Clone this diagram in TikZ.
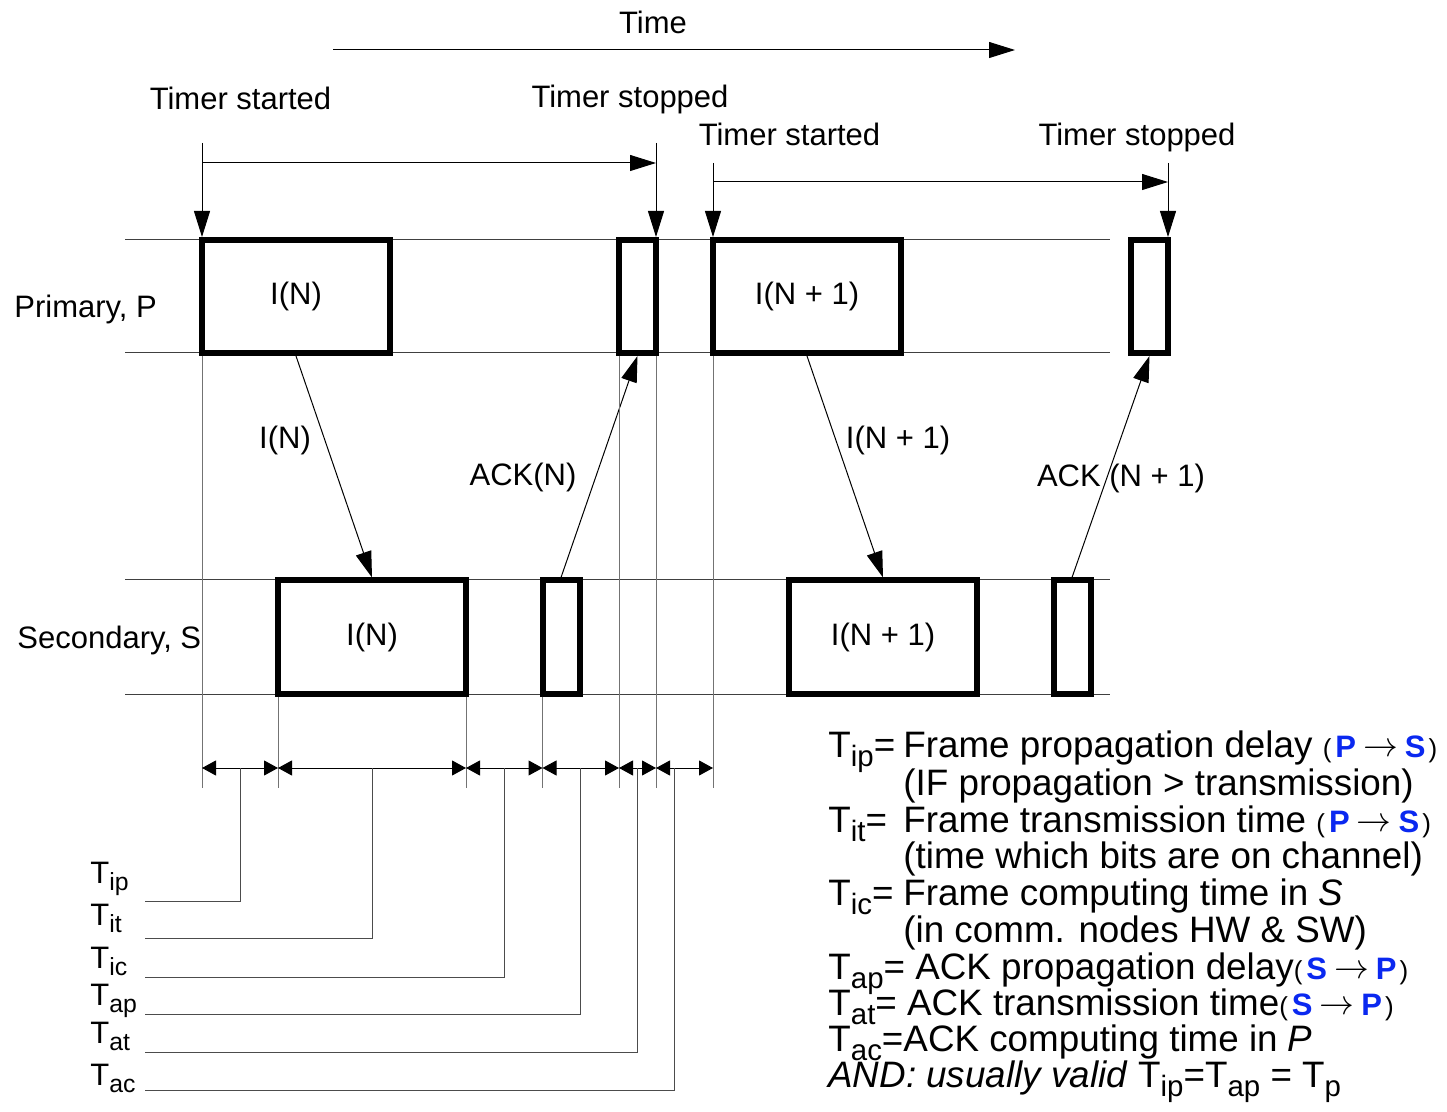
\documentclass[tikz,border=0pt]{standalone}
\usepackage{fontspec}
\usepackage{graphicx}
\setmainfont{Liberation Sans}
\usetikzlibrary{arrows.meta}
\definecolor{dirblue}{RGB}{10,40,240}
\newcommand{\lowsub}[1]{\raisebox{-0.25em}{\scalebox{0.8}{#1}}}
\newcommand{\pdir}[2]{{\fontsize{13}{13}\selectfont(\hspace{2pt}{\fontsize{15.5}{15}\selectfont\textcolor{dirblue}{\textbf{#1}}}\hspace{3.5pt}\smash{\raisebox{0.5pt}{\scalebox{1.45}{$\rightarrow$}}}\hspace{3.5pt}{\fontsize{15.5}{15}\selectfont\textcolor{dirblue}{\textbf{#2}}}\hspace{1.5pt})}}
\tikzset{
  chan/.style={black!75, line width=0.5pt},
  guide/.style={black!55, line width=0.5pt},
  lead/.style={black!70, line width=0.5pt},
  pdu/.style={draw, line width=3pt, minimum height=56.5pt, inner sep=0pt, font=\fontsize{15.5}{18}\selectfont},
  bigpdu/.style={pdu, minimum width=94pt},
  ackpdu/.style={pdu, minimum width=18.5pt},
  tarrow/.style={-{Triangle[length=13pt,width=8pt]}, line width=0.5pt},
  msg/.style={-{Triangle[length=13pt,width=8pt]}, line width=0.5pt},
  dim/.style={{Triangle[length=7pt,width=7.5pt]}-{Triangle[length=7pt,width=7.5pt]}, line width=0.5pt},
  lbl/.style={font=\fontsize{15.5}{18}\selectfont, inner sep=0pt},
  legend/.style={anchor=base west, inner sep=0pt, font=\fontsize{18.4}{18.4}\selectfont},
}
\begin{document}
\begin{tikzpicture}[x=0.5pt,y=-0.5pt]
\useasboundingbox (0,0) rectangle (1447,1112);

% time axis
\node[lbl] (time) at (653,22) {Time};
\coordinate (ta) at (333,50);
\coordinate (tb) at (1015,50);
\draw[tarrow] (ta) -- (tb);

% channels
\foreach \y in {240,353,580,694}
  \draw[chan] (125,\y) -- (1110,\y);
\node[lbl, anchor=base west] (prim) at (14,318) {Primary, P};
\node[lbl, anchor=base west] (sec) at (17,648) {Secondary, S};

% frames on P and S
\node[bigpdu] (pin) at (296,296.5) {I(N)};
\node[ackpdu] (pack) at (637.5,296.5) {};
\node[bigpdu] (pin1) at (807,296.5) {I(N + 1)};
\node[ackpdu] (pack1) at (1149.5,296.5) {};
\node[bigpdu] (sin) at (372,637) {I(N)};
\node[ackpdu] (sack) at (561,637) {};
\node[bigpdu] (sin1) at (883,637) {I(N + 1)};
\node[ackpdu] (sack1) at (1072,637) {};

% timers
\node[lbl, anchor=base] (tst1) at (240.5,110) {Timer started};
\node[lbl, anchor=base] (tsp1) at (630,108) {Timer stopped};
\node[lbl, anchor=base] (tst2) at (789.5,146) {Timer started};
\node[lbl, anchor=base] (tsp2) at (1137,146) {Timer stopped};
\coordinate (s1) at (202,143);
\coordinate (e1) at (656,143);
\coordinate (s2) at (713,163);
\coordinate (e2) at (1168,163);
\draw[tarrow] (s1) -- (s1 |- pin.north);
\draw[tarrow] (e1) -- (e1 |- pack.north);
\draw[tarrow] (s2) -- (s2 |- pin1.north);
\draw[tarrow] (e2) -- (e2 |- pack1.north);
\coordinate (h1a) at (202,163);
\coordinate (h1b) at (656,163);
\coordinate (h2a) at (713,182);
\coordinate (h2b) at (1168,182);
\draw[tarrow] (h1a) -- (h1b);
\draw[tarrow] (h2a) -- (h2b);

% messages
\draw[msg] (pin.south) -- (sin.north);
\draw[msg] (sack.north) -- (pack.south);
\draw[msg] (pin1.south) -- (sin1.north);
\draw[msg] (sack1.north) -- (pack1.south);
\node[lbl] (min) at (285,440) {I(N)};
\node[lbl] (mack) at (523,477) {ACK(N)};
\node[lbl] (min1) at (898,440) {I(N + 1)};
\node[lbl] (mack1) at (1121,478) {ACK (N + 1)};

% time intervals
\foreach \x [count=\i from 0] in {202,278,466,542.5,619,656,713}
  \coordinate (d\i) at (\x,768);
\foreach \i/\b in {0/pin,1/sin,2/sin,3/sack,4/pack,5/pack,6/pin1}
  \draw[guide] (d\i |- \b.south) -- ([yshift=-10pt]d\i);
\foreach \i/\j in {0/1,1/2,2/3,3/4,4/5,5/6}
  \draw[dim] (d\i) -- (d\j);

% leaders to the names
\foreach \x/\y/\b/\s [count=\i] in {240.5/901/883/ip,372/938/925/it,504/977/968/ic,580/1014/1005/ap,637/1052/1043/at,674/1090/1085/ac}{
  \coordinate (m\i) at (\x,768);
  \coordinate (l\i) at (145,\y);
  \node[lbl, anchor=base west] (t\i) at (90,\b) {T\lowsub{\s}};
  \draw[lead] (m\i) |- (l\i);
}

% legend
\node[legend] (leg1) at (828,757) {\makebox[37.5pt][l]{T\lowsub{ip}=}Frame propagation delay \pdir{P}{S}};
\node[legend] (leg2) at (828,795) {\hspace*{37.5pt}(IF propagation > transmission)};
\node[legend] (leg3) at (828,832) {\makebox[37.5pt][l]{T\lowsub{it}=}Frame transmission time \pdir{P}{S}};
\node[legend] (leg4) at (828,868) {\hspace*{37.5pt}(time which bits are on channel)};
\node[legend] (leg5) at (828,905) {\makebox[37.5pt][l]{T\lowsub{ic}=}Frame computing time in \textit{S}};
\node[legend] (leg6) at (828,942) {\hspace*{37.5pt}(in comm. nodes HW \& SW)};
\node[legend] (leg7) at (828,979) {T\lowsub{ap}= ACK propagation delay\pdir{S}{P}};
\node[legend] (leg8) at (828,1015) {T\lowsub{at}= ACK transmission time\pdir{S}{P}};
\node[legend] (leg9) at (828,1051) {T\lowsub{ac}=ACK computing time in \textit{P}};
\node[legend] (leg10) at (828,1087) {\textit{AND: usually valid} T\lowsub{ip}=T\lowsub{ap} = T\lowsub{p}};
\end{tikzpicture}
\end{document}
